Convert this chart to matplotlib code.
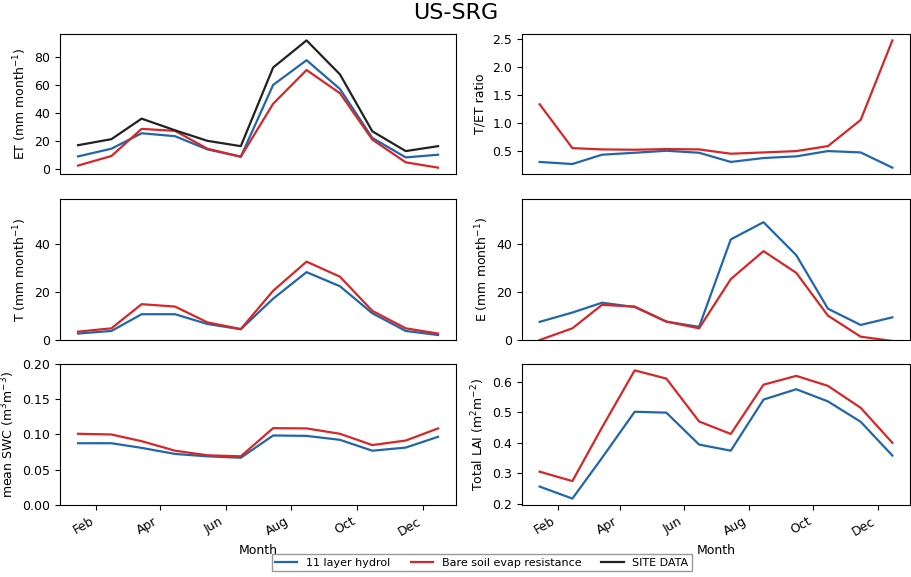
import datetime as dt
import numpy as np
import matplotlib
matplotlib.use('Agg')
import matplotlib.pyplot as plt
import matplotlib.dates as mdates

# monthly means, mid-month dates
months = [dt.datetime(2010, m, 15) for m in range(1, 13)]

et_hydro = [8.9, 14.4, 25.4, 23.3, 13.9, 8.7, 59.8, 77.4, 56.9, 22.1, 8.2, 10.1]
et_bare = [2.4, 9.2, 28.5, 27.1, 14.4, 8.7, 46.4, 70.4, 53.9, 20.9, 4.7, 0.9]
et_site = [16.9, 21.2, 35.8, 27.5, 20.0, 16.2, 72.2, 91.5, 67.3, 26.8, 12.7, 16.2]

ratio_hydro = [0.30, 0.263, 0.429, 0.464, 0.50, 0.464, 0.30, 0.37, 0.40, 0.494, 0.47, 0.198]
ratio_bare = [1.33, 0.547, 0.524, 0.518, 0.53, 0.524, 0.447, 0.47, 0.494, 0.583, 1.05, 2.47]

t_hydro = [2.7, 3.8, 10.8, 10.8, 6.7, 4.5, 17.3, 28.4, 22.5, 11.2, 3.8, 2.1]
t_bare = [3.5, 4.9, 15.0, 14.0, 7.4, 4.6, 20.6, 32.8, 26.5, 12.2, 4.9, 2.7]

e_hydro = [7.6, 11.5, 15.6, 13.8, 7.7, 5.5, 42.1, 49.3, 35.5, 13.1, 6.3, 9.5]
e_bare = [0.0, 4.9, 14.7, 14.0, 7.7, 4.9, 25.5, 37.2, 28.1, 10.2, 1.4, -0.4]

swc_hydro = [0.0876, 0.0876, 0.081, 0.0724, 0.069, 0.067, 0.0986, 0.098, 0.0924, 0.077, 0.0814, 0.0967]
swc_bare = [0.101, 0.100, 0.0905, 0.077, 0.0705, 0.069, 0.109, 0.1086, 0.101, 0.085, 0.0914, 0.1086]

lai_hydro = [0.256, 0.2165, 0.35, 0.502, 0.499, 0.394, 0.374, 0.542, 0.576, 0.536, 0.469, 0.358]
lai_bare = [0.305, 0.274, 0.45, 0.638, 0.611, 0.470, 0.429, 0.591, 0.620, 0.587, 0.515, 0.400]

c_hydro = '#2166ac'
c_bare = '#d62728'
c_site = '#222222'
lw = 1.6

plt.rcParams['font.size'] = 9

fig, axs = plt.subplots(3, 2, figsize=(9.11, 5.77), dpi=100, sharex=True)

ax = axs[0, 0]
ax.plot(months, et_hydro, color=c_hydro, lw=lw, label='11 layer hydrol')
ax.plot(months, et_bare, color=c_bare, lw=lw, label='Bare soil evap resistance')
ax.plot(months, et_site, color=c_site, lw=lw, label='SITE DATA')
ax.set_ylabel('ET (mm month$^{-1}$)')

ax = axs[0, 1]
ax.plot(months, ratio_hydro, color=c_hydro, lw=lw)
ax.plot(months, ratio_bare, color=c_bare, lw=lw)
ax.set_ylabel('T/ET ratio')

ax = axs[1, 0]
ax.plot(months, t_hydro, color=c_hydro, lw=lw)
ax.plot(months, t_bare, color=c_bare, lw=lw)
ax.set_ylabel('T (mm month$^{-1}$)')
ax.set_ylim(0, 59)

ax = axs[1, 1]
ax.plot(months, e_hydro, color=c_hydro, lw=lw)
ax.plot(months, e_bare, color=c_bare, lw=lw)
ax.set_ylabel('E (mm month$^{-1}$)')
ax.set_ylim(0, 59)

ax = axs[2, 0]
ax.plot(months, swc_hydro, color=c_hydro, lw=lw)
ax.plot(months, swc_bare, color=c_bare, lw=lw)
ax.set_ylabel('mean SWC (m$^3$m$^{-3}$)')
ax.set_ylim(0, 0.2)
ax.set_xlabel('Month')

ax = axs[2, 1]
ax.plot(months, lai_hydro, color=c_hydro, lw=lw)
ax.plot(months, lai_bare, color=c_bare, lw=lw)
ax.set_ylabel('Total LAI (m$^2$m$^{-2}$)')
ax.set_xlabel('Month')

for a in axs[2]:
    a.xaxis.set_major_locator(mdates.MonthLocator(bymonth=[2, 4, 6, 8, 10, 12]))
    a.xaxis.set_major_formatter(mdates.DateFormatter('%b'))
for a in axs[:2].flat:
    a.tick_params(axis='x', bottom=False, labelbottom=False)
fig.autofmt_xdate(rotation=30, ha='right')

# axes placement (fractions of the figure)
rows = [(0.6984, 0.2426), (0.4107, 0.2444), (0.1248, 0.2444)]
cols = [(0.0659, 0.4347), (0.5730, 0.4259)]
for i, (y0, h) in enumerate(rows):
    for j, (x0, w) in enumerate(cols):
        axs[i, j].set_position([x0, y0, w, h])

fig.suptitle('US-SRG', fontsize=16, y=0.995)
fig.legend(*axs[0, 0].get_legend_handles_labels(), loc='center',
           bbox_to_anchor=(0.529, 0.025), ncol=3, fontsize=8,
           fancybox=False, edgecolor='0.5', borderpad=0.3,
           handlelength=2.0, columnspacing=1.8)

fig.savefig('out.png', dpi=100)
